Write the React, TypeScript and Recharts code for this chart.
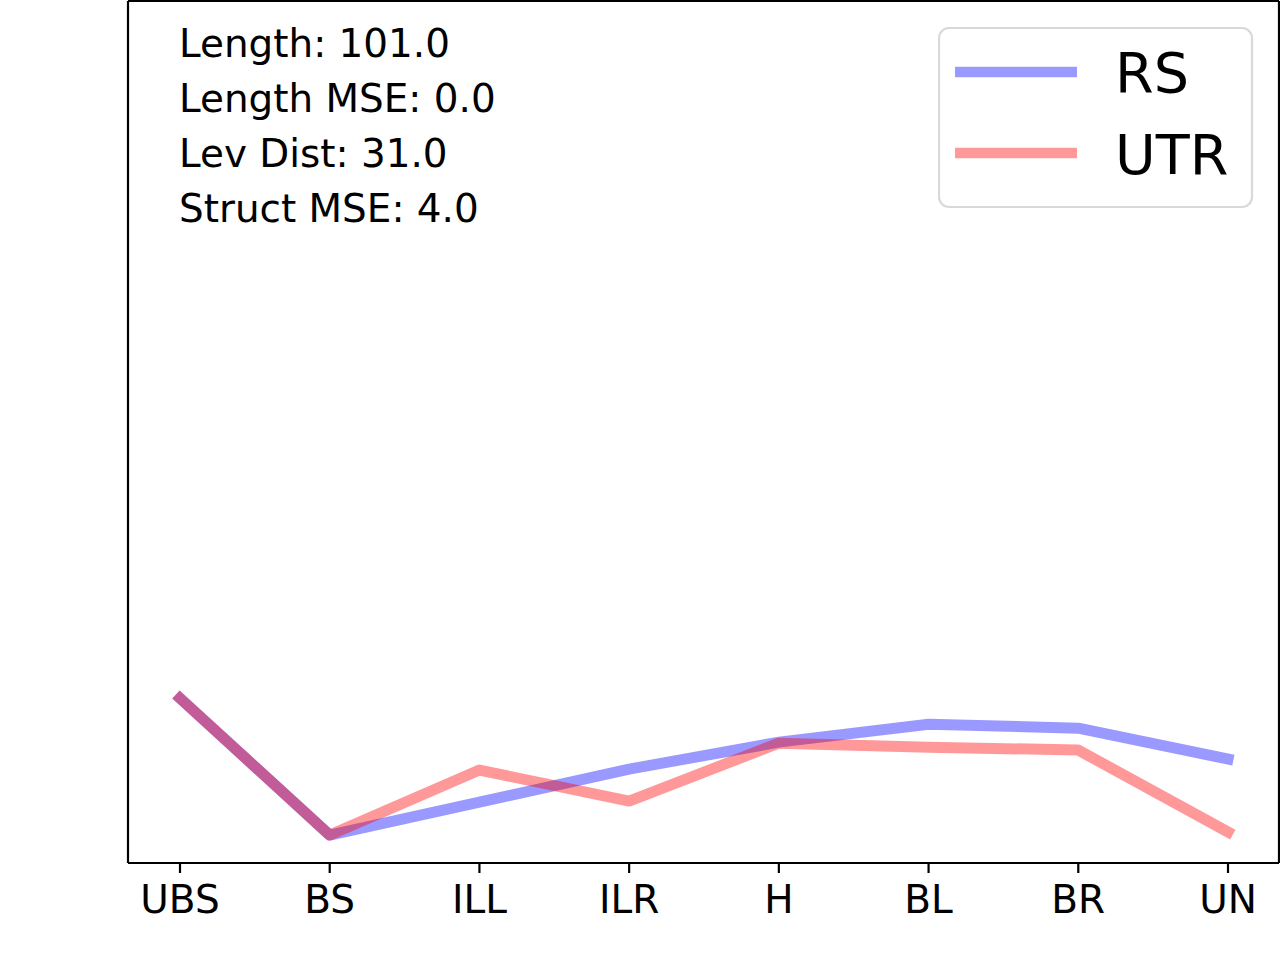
import React from 'react'
import { LineChart, Line, XAxis, YAxis, Legend } from 'recharts'

// categories along the x axis
const categories = ['UBS', 'BS', 'ILL', 'ILR', 'H', 'BL', 'BR', 'UN']

// series values
const rsValues = [9.56, 1.62, 3.53, 5.45, 7.01, 8.05, 7.82, 6.03]
const utrValues = [9.56, 1.62, 5.39, 3.59, 6.95, 6.72, 6.55, 1.8]

// stats printed in the top-left corner
const statLines = ['Length: 101.0', 'Length MSE: 0.0', 'Lev Dist: 31.0', 'Struct MSE: 4.0']

const seriesNames = ['RS', 'UTR']
const seriesColors = ['#0000ff', '#ff0000']

const FONT = '"DejaVu Sans", sans-serif'

const chartData = categories.map((name, i) => ({
  name,
  RS: rsValues[i],
  UTR: utrValues[i],
}))

function BottomTick(props: any) {
  const { x, y, payload } = props
  return (
    <text x={x} y={y + 40} textAnchor="middle" fontSize={39} fontFamily={FONT} fill="#000">
      {payload.value}
    </text>
  )
}

function LegendBox() {
  return (
    <svg width={316} height={182} style={{ display: 'block' }}>
      <rect x={1} y={1} width={313} height={179} rx={10} ry={10}
        fill="rgba(255,255,255,0.8)" stroke="#d9d9d9" strokeWidth={2.2} />
      {seriesNames.map((name, i) => (
        <g key={name}>
          <line x1={17} x2={139} y1={45 + i * 81} y2={45 + i * 81}
            stroke={seriesColors[i]} strokeOpacity={0.4} strokeWidth={10.5} />
          <text x={177} y={65 + i * 82} fontSize={55.6} fontFamily={FONT} fill="#000">
            {name}
          </text>
        </g>
      ))}
    </svg>
  )
}

const frameLine = { stroke: '#000', strokeWidth: 2.2 }

export default function App() {
  return (
    <div style={{ position: 'absolute', left: 0, top: 0, width: 1280, height: 960, background: '#fff' }}>
      <LineChart width={1280} height={960} data={chartData}
        margin={{ top: 0, right: 0, left: 127, bottom: 0 }}>
        <XAxis dataKey="name" xAxisId="bottom" scale="point" padding={{ left: 52, right: 51 }}
          height={97} interval={0} tickSize={10} tickMargin={0}
          tick={<BottomTick />} axisLine={frameLine} tickLine={frameLine} />
        <XAxis dataKey="name" xAxisId="top" orientation="top" scale="point" height={1}
          tick={false} tickLine={false} axisLine={frameLine} />
        <YAxis yAxisId="left" domain={[0, 50]} width={1} tick={false} tickLine={false}
          axisLine={frameLine} />
        <YAxis yAxisId="right" orientation="right" domain={[0, 50]} width={1} tick={false}
          tickLine={false} axisLine={frameLine} />
        <Legend verticalAlign="middle" align="center" content={() => <LegendBox />}
          wrapperStyle={{ position: 'absolute', left: 938, top: 27, width: 316, height: 182 }} />
        {seriesNames.map((name, i) => (
          <Line key={name} xAxisId="bottom" yAxisId="left" dataKey={name} type="linear"
            stroke={seriesColors[i]} strokeOpacity={0.4} strokeWidth={11}
            strokeLinecap="square" strokeLinejoin="round"
            dot={false} activeDot={false} isAnimationActive={false} />
        ))}
      </LineChart>
      <svg width={1280} height={960}
        style={{ position: 'absolute', left: 0, top: 0, pointerEvents: 'none' }}>
        {statLines.map((s, i) => (
          <text key={s} x={179} y={57 + i * 55} fontSize={38.9} fontFamily={FONT} fill="#000">
            {s}
          </text>
        ))}
      </svg>
    </div>
  )
}
